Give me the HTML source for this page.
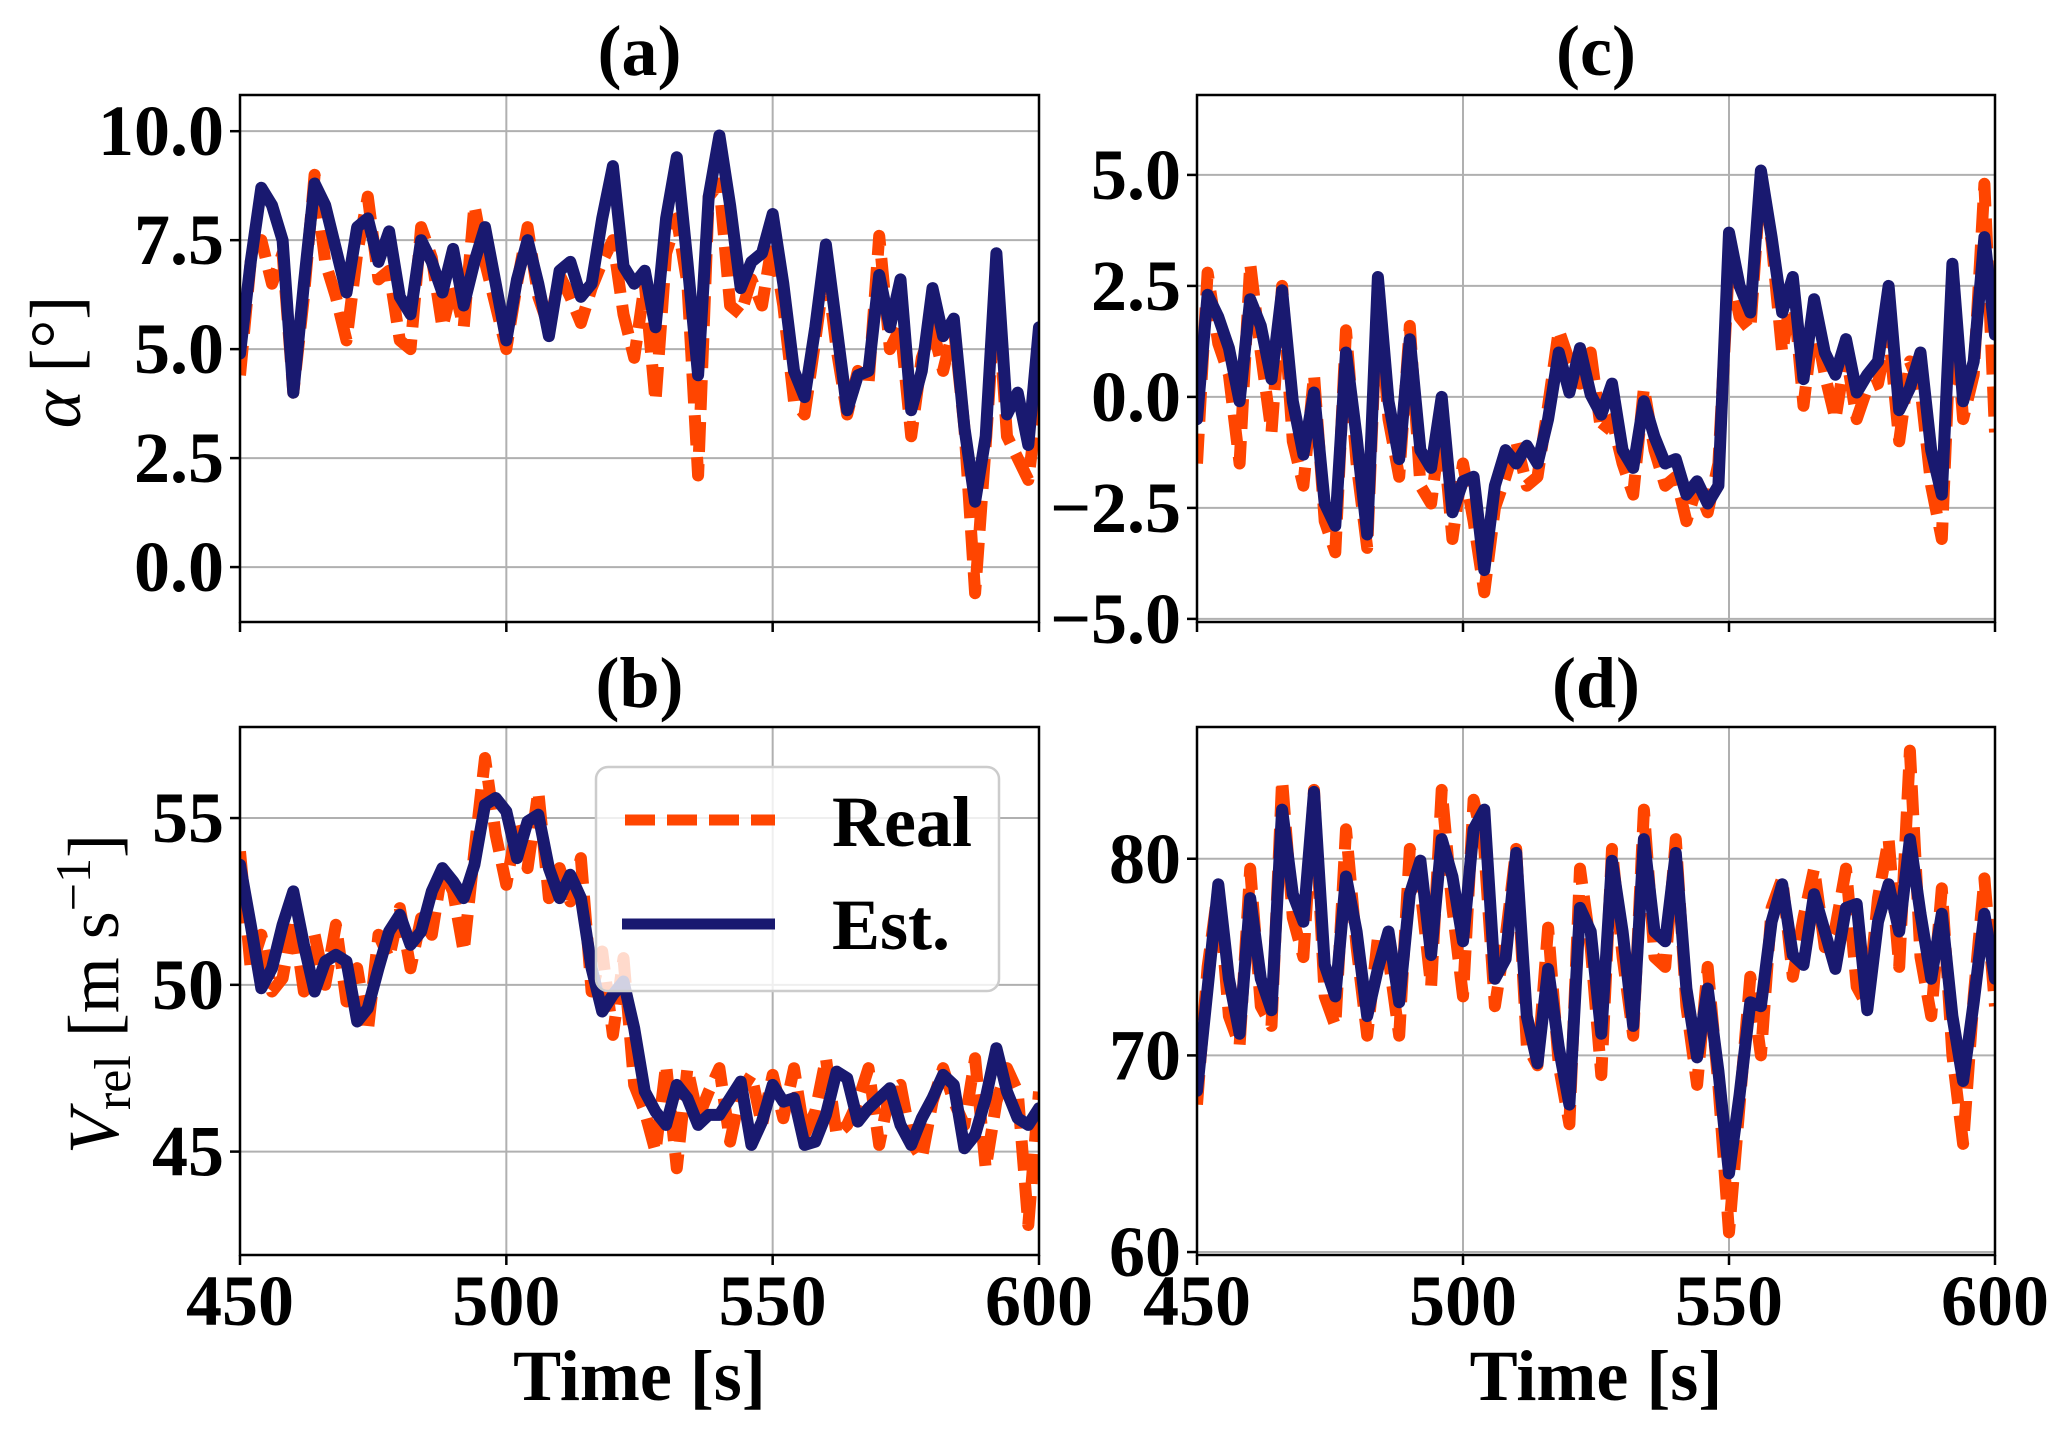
<!DOCTYPE html>
<html><head><meta charset="utf-8"><style>
html,body{margin:0;padding:0;background:#fff}
svg{display:block}
text{font-family:"Liberation Serif",serif}
</style></head><body>
<svg id="chart" width="2067" height="1430" viewBox="0 0 2067 1430">
 <g id="plots"></g>
 <g>
  <text transform="translate(80,362) rotate(-90)" text-anchor="middle" font-size="72" font-family="Liberation Serif, serif"><tspan font-style="italic">α</tspan> [°]</text>
 </g>
 <g>
  <text transform="translate(118,994) rotate(-90)" text-anchor="middle" font-size="72" font-family="Liberation Serif, serif"><tspan font-style="italic">V</tspan><tspan font-size="52" dy="12">rel</tspan><tspan dy="-12"> [m s</tspan><tspan font-size="50" dy="-28">−1</tspan><tspan dy="28">]</tspan></text>
 </g>
 <g>
  <rect x="596" y="767" width="403" height="224" rx="12" fill="#fff" fill-opacity="0.8" stroke="#cccccc" stroke-width="2.5"/>
  <line x1="625" y1="820" x2="775" y2="820" stroke="#ff4500" stroke-width="11" stroke-dasharray="30 12"/>
  <text x="832" y="846" font-size="72" font-weight="bold" font-family="Liberation Serif, serif">Real</text>
  <line x1="622" y1="924" x2="775" y2="924" stroke="#191970" stroke-width="11"/>
  <text x="832" y="949" font-size="72" font-weight="bold" font-family="Liberation Serif, serif">Est.</text>
 </g>
</svg>
<script>
const aEst=[4.9,7.0,8.7,8.3,7.5,4.0,6.5,8.8,8.3,7.3,6.3,7.8,8.0,7.0,7.7,6.2,5.8,7.5,7.0,6.3,7.3,6.0,7.0,7.8,6.5,5.2,6.6,7.5,6.5,5.3,6.8,7.0,6.2,6.5,8.0,9.2,6.9,6.5,6.8,5.5,8.0,9.4,7.0,4.4,8.5,9.9,8.3,6.4,7.0,7.2,8.1,6.5,4.5,3.9,5.5,7.4,5.5,3.6,4.4,4.5,6.7,5.5,6.6,3.6,4.5,6.4,5.3,5.7,3.2,1.5,3.0,7.2,3.5,4.0,2.8,5.5];
const aReal=[4.4,7.0,7.5,6.5,7.2,4.0,6.2,9.0,7.0,6.2,5.2,7.2,8.5,6.6,6.8,5.2,5.0,7.8,7.1,5.5,6.5,5.5,8.3,7.0,6.0,5.0,6.5,7.8,6.2,5.5,6.7,6.2,5.6,6.4,7.0,7.5,5.8,4.8,6.5,3.8,7.2,8.0,6.5,2.1,8.5,8.8,6.0,5.8,6.6,6.0,7.5,6.0,3.8,3.5,5.2,7.0,5.0,3.5,4.5,4.2,7.6,5.0,5.5,3.0,4.8,5.5,4.5,5.5,3.2,-0.6,2.8,6.5,3.0,2.5,2.0,4.0];
const cEst=[-0.5,2.3,1.8,1.1,-0.1,2.2,1.6,0.4,2.4,-0.1,-1.3,0.1,-2.4,-2.9,1.0,-0.9,-3.1,2.7,-0.1,-1.4,1.3,-1.2,-1.6,0,-2.6,-1.9,-1.8,-3.9,-2.0,-1.2,-1.5,-1.1,-1.5,-0.5,1.0,0.1,1.1,0.05,-0.4,0.3,-1.2,-1.6,-0.1,-0.9,-1.5,-1.4,-2.2,-1.9,-2.4,-2.0,3.7,2.5,1.9,5.1,3.6,1.9,2.7,0.4,2.2,1.0,0.5,1.3,0.1,0.5,0.8,2.5,-0.3,0.2,1.0,-1.2,-2.2,3.0,-0.1,0.8,3.6,1.4];
const cReal=[-1.5,2.8,1.2,0.5,-1.5,3.0,1.0,-0.8,2.5,-1.0,-2.0,0.5,-2.8,-3.5,1.5,-1.5,-3.4,2.5,-0.5,-1.8,1.6,-2.0,-2.4,-0.5,-3.2,-1.5,-2.8,-4.4,-2.5,-1.8,-1.0,-2.0,-1.8,-0.2,1.5,0.8,0.3,1.0,-0.8,-0.5,-1.5,-2.2,0.2,-1.2,-2.0,-1.8,-2.8,-2.0,-2.6,-1.5,3.0,1.8,1.5,5.0,3.5,1.0,2.5,-0.2,1.8,0.5,-0.5,1.0,-0.5,0.2,0.3,1.5,-1.0,0.8,0.2,-2.0,-3.2,2.5,-0.5,0.5,4.8,-0.8];
const bEst=[53.6,51.8,49.9,50.5,51.8,52.8,51.2,49.8,50.7,50.9,50.7,48.9,49.3,50.5,51.6,52.1,51.2,51.6,52.8,53.5,53.1,52.6,53.6,55.4,55.6,55.2,53.8,54.9,55.1,53.5,52.6,53.3,52.6,50.5,49.2,49.7,50.1,48.7,46.8,46.2,45.8,47.0,46.6,45.8,46.1,46.1,46.6,47.1,45.2,45.9,47.0,46.5,46.6,45.2,45.3,46.1,47.4,47.2,45.9,46.3,46.6,46.9,45.8,45.2,46.0,46.6,47.3,47.0,45.1,45.5,46.6,48.1,46.8,46.0,45.8,46.3];
const bReal=[54.0,50.5,51.5,49.8,50.2,52.0,49.8,51.5,50.0,51.8,49.5,50.5,48.6,51.5,50.8,52.3,50.5,52.0,51.5,53.5,52.8,51.0,54.0,56.8,54.5,53.0,54.8,53.5,55.8,52.6,53.5,52.5,53.8,49.8,51.0,48.5,50.8,47.0,46.2,45.0,47.6,44.5,47.5,46.0,46.8,47.5,45.3,46.8,47.3,45.8,47.3,46.0,47.5,45.5,46.2,47.8,45.5,45.8,46.5,47.5,45.2,46.8,47.0,45.3,44.8,46.5,47.5,46.5,45.8,47.8,44.5,46.5,47.5,46.8,42.8,46.8];
const dEst=[68.2,73.4,78.7,73.9,71.1,78.0,73.9,72.3,82.5,78.2,76.8,83.4,74.6,73.0,79.1,76.3,72.0,74.4,76.3,72.7,78.2,79.9,75.1,81.0,79.1,75.8,81.5,82.5,73.9,74.9,80.3,72.0,69.6,74.4,70.4,67.5,77.5,76.3,71.1,79.9,76.3,71.5,81.0,76.3,75.8,80.3,73.4,69.9,73.4,69.2,64.0,68.0,72.7,72.5,76.8,78.7,75.1,74.6,78.2,76.3,74.4,77.5,77.7,72.3,76.8,78.7,76.3,81.0,77.2,73.9,77.2,72.0,68.7,72.7,77.2,73.9];
const dReal=[67.5,74.5,78.5,72.0,70.5,79.5,72.5,71.5,84.0,77.0,75.0,83.5,73.0,71.5,81.5,75.5,71.0,76.0,75.0,71.0,80.5,78.5,73.5,83.5,77.5,73.0,83.0,80.5,72.5,76.0,80.5,70.5,69.5,76.5,69.5,66.5,79.5,75.5,69.0,80.5,75.0,71.0,82.5,75.0,74.5,81.0,72.5,68.5,74.5,68.5,61.0,67.5,74.0,70.0,77.5,79.0,74.0,77.0,79.5,75.5,76.5,79.5,73.5,72.5,78.0,81.0,74.5,85.5,75.0,72.0,78.5,70.0,65.5,73.0,79.0,72.5];
const xTicks=[450,500,550,600];
const aTicks=[0.0,2.5,5.0,7.5,10.0];
const cTicks=[-5.0,-2.5,0.0,2.5,5.0];
const bTicks=[45,50,55];
const dTicks=[60,70,80];

const NS='http://www.w3.org/2000/svg';
const root=document.getElementById('plots');
function mk(tag,attrs,parent){const e=document.createElementNS(NS,tag);for(const k in attrs)e.setAttribute(k,attrs[k]);(parent||root).appendChild(e);return e;}

const panels=[
 {id:'a',x0:240,x1:1039,y0:95,y1:622,vmin:-1.26,vmax:10.83,ticks:aTicks,fmt:v=>v.toFixed(1),est:aEst,real:aReal,xlabels:false},
 {id:'c',x0:1197,x1:1995,y0:95,y1:622,vmin:-5.07,vmax:6.8,ticks:cTicks,fmt:v=>(v<0?'\u2212':'')+Math.abs(v).toFixed(1),est:cEst,real:cReal,xlabels:false},
 {id:'b',x0:240,x1:1039,y0:727,y1:1255,vmin:41.9,vmax:57.73,ticks:bTicks,fmt:v=>String(v),est:bEst,real:bReal,xlabels:true},
 {id:'d',x0:1197,x1:1995,y0:727,y1:1255,vmin:59.85,vmax:86.7,ticks:dTicks,fmt:v=>String(v),est:dEst,real:dReal,xlabels:true}
];

panels.forEach(p=>{
 const g=mk('g',{});
 
 
 const xs=t=>p.x0+(t-450)/150*(p.x1-p.x0);
 const ys=v=>p.y1-(v-p.vmin)/(p.vmax-p.vmin)*(p.y1-p.y0);
 const cid='clip'+p.id;
 const cp=mk('clipPath',{id:cid},g);
 mk('rect',{x:p.x0,y:p.y0,width:p.x1-p.x0,height:p.y1-p.y0},cp);
 xTicks.forEach(t=>{
  const l=mk('line',{x1:xs(t),x2:xs(t),y1:p.y0,y2:p.y1,stroke:'#b0b0b0','stroke-width':2},g);
  
  
 });
 p.ticks.forEach(v=>{
  const l=mk('line',{x1:p.x0,x2:p.x1,y1:ys(v),y2:ys(v),stroke:'#b0b0b0','stroke-width':2},g);
  
  
 });
 function path(arr){const n=arr.length;return arr.map((v,i)=>(i?'L':'M')+xs(450+i*150/(n-1)).toFixed(1)+' '+ys(v).toFixed(1)).join(' ');}
 const r=mk('path',{d:path(p.real),fill:'none',stroke:'#ff4500','stroke-width':12,'stroke-dasharray':'30 12','stroke-linejoin':'round','clip-path':'url(#'+cid+')'},g);
 
 
 const e=mk('path',{d:path(p.est),fill:'none',stroke:'#191970','stroke-width':12,'stroke-linejoin':'round','stroke-linecap':'round','clip-path':'url(#'+cid+')'},g);
 
 
 const f=mk('rect',{x:p.x0,y:p.y0,width:p.x1-p.x0,height:p.y1-p.y0,fill:'none',stroke:'#000','stroke-width':2.5},g);
 
 
 p.ticks.forEach(v=>{
  mk('line',{x1:p.x0-10,x2:p.x0,y1:ys(v),y2:ys(v),stroke:'#000','stroke-width':2.5},g);
  const t=mk('text',{x:p.x0-16,y:ys(v)+24,'text-anchor':'end','font-size':72,'font-weight':'bold'},g);
  t.textContent=p.fmt(v);
  
  
 });
 xTicks.forEach(tv=>{
  mk('line',{x1:xs(tv),x2:xs(tv),y1:p.y1,y2:p.y1+10,stroke:'#000','stroke-width':2.5},g);
  if(p.xlabels){
   const t=mk('text',{x:xs(tv),y:p.y1+70,'text-anchor':'middle','font-size':72,'font-weight':'bold'},g);
   t.textContent=String(tv);
   
   
  }
 });
 const ti=mk('text',{x:(p.x0+p.x1)/2,y:p.y0-20,'text-anchor':'middle','font-size':72,'font-weight':'bold'},g);
 ti.textContent='('+p.id+')';
 
 
 if(p.xlabels){
  const xl=mk('text',{x:(p.x0+p.x1)/2,y:1400,'text-anchor':'middle','font-size':72,'font-weight':'bold'},g);
  xl.textContent='Time [s]';
  
  
 }
});
</script>
</body></html>
